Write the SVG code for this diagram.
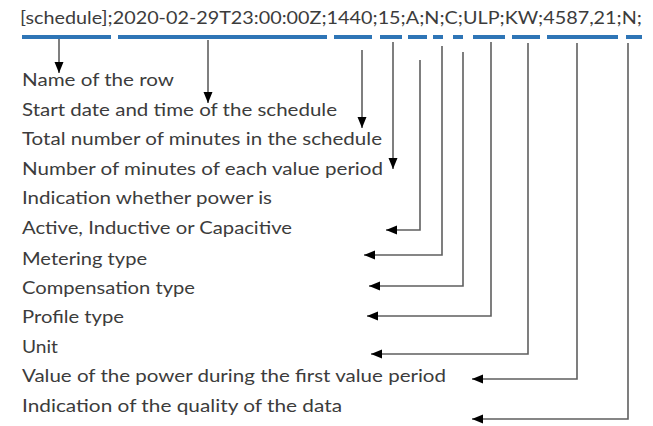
<svg xmlns="http://www.w3.org/2000/svg" width="653" height="426" viewBox="0 0 653 426">
<style>
.t{font-family:Lato,"Liberation Sans",sans-serif;font-size:18px;fill:#3c3c3c}
.bar{fill:#2e75b6}
.c{fill:none;stroke:#5f5f5f;stroke-width:1.6;marker-end:url(#ah)}
</style>
<defs>
<marker id="ah" markerUnits="userSpaceOnUse" markerWidth="12" markerHeight="10" refX="11" refY="4.5" orient="auto">
<path d="M0,0 L11,4.5 L0,9 z" fill="#000"/>
</marker>
</defs>
<rect width="653" height="426" fill="#fff"/>
<g id="record">
<text class="t" x="20" y="24" textLength="622" lengthAdjust="spacingAndGlyphs">[schedule];2020-02-29T23:00:00Z;1440;15;A;N;C;ULP;KW;4587,21;N;</text>
<rect class="bar" x="22" y="35" width="89" height="4"/>
<rect class="bar" x="118" y="35" width="209" height="4"/>
<rect class="bar" x="334" y="35" width="38" height="4"/>
<rect class="bar" x="380" y="35" width="22" height="4"/>
<rect class="bar" x="408" y="35" width="19" height="4"/>
<rect class="bar" x="433" y="35" width="10" height="4"/>
<rect class="bar" x="453" y="35" width="10" height="4"/>
<rect class="bar" x="473" y="35" width="32" height="4"/>
<rect class="bar" x="512" y="35" width="28" height="4"/>
<rect class="bar" x="547" y="35" width="71" height="4"/>
<rect class="bar" x="626" y="35" width="16" height="4"/>
</g>
<g id="label-name"><text class="t" x="22" y="86" textLength="152" lengthAdjust="spacingAndGlyphs">Name of the row</text></g>
<g id="label-start"><text class="t" x="22" y="116" textLength="315" lengthAdjust="spacingAndGlyphs">Start date and time of the schedule</text></g>
<g id="label-total"><text class="t" x="22" y="145" textLength="360" lengthAdjust="spacingAndGlyphs">Total number of minutes in the schedule</text></g>
<g id="label-period"><text class="t" x="22" y="175" textLength="361" lengthAdjust="spacingAndGlyphs">Number of minutes of each value period</text></g>
<g id="label-power">
<text class="t" x="22" y="204" textLength="250" lengthAdjust="spacingAndGlyphs">Indication whether power is</text>
<text class="t" x="22" y="234" textLength="270" lengthAdjust="spacingAndGlyphs">Active, Inductive or Capacitive</text>
</g>
<g id="label-metering"><text class="t" x="22" y="265" textLength="125" lengthAdjust="spacingAndGlyphs">Metering type</text></g>
<g id="label-compensation"><text class="t" x="22" y="294" textLength="173" lengthAdjust="spacingAndGlyphs">Compensation type</text></g>
<g id="label-profile"><text class="t" x="22" y="323" textLength="102" lengthAdjust="spacingAndGlyphs">Profile type</text></g>
<g id="label-unit"><text class="t" x="22" y="353" textLength="36" lengthAdjust="spacingAndGlyphs">Unit</text></g>
<g id="label-value"><text class="t" x="22" y="382" textLength="424" lengthAdjust="spacingAndGlyphs">Value of the power during the first value period</text></g>
<g id="label-quality"><text class="t" x="22" y="412" textLength="320" lengthAdjust="spacingAndGlyphs">Indication of the quality of the data</text></g>
<g id="connectors">
<path class="c" d="M59 39 V73"/>
<path class="c" d="M208 40 V103"/>
<path class="c" d="M362 50 V128"/>
<path class="c" d="M393 42 V169"/>
<path class="c" d="M420 60 V230 H386"/>
<path class="c" d="M442 46 V255 H364"/>
<path class="c" d="M463 52 V286 H369"/>
<path class="c" d="M491 42 V316 H367"/>
<path class="c" d="M528 43 V354 H371"/>
<path class="c" d="M577 43 V379 H472"/>
<path class="c" d="M628 43 V419 H472"/>
</g>
</svg>
